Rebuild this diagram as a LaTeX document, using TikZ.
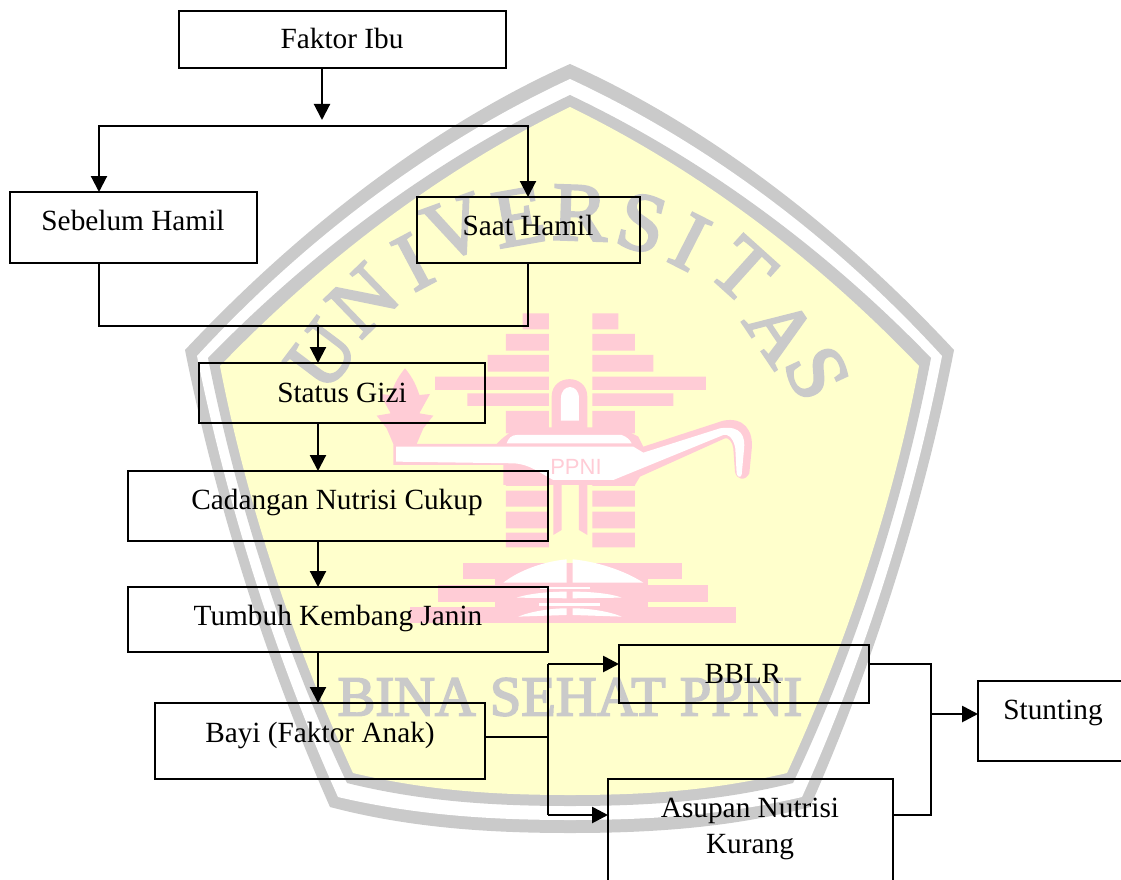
\documentclass[tikz,border=0pt]{standalone}
\usepackage{fontspec}
\setmainfont{Liberation Serif}
\newfontfamily\wmsans{Liberation Sans}
\newfontfamily\wmheavy[FakeBold=3]{Liberation Serif}
\usetikzlibrary{arrows.meta}
\definecolor{wmgrey}{HTML}{CACACA}
\definecolor{wmyellow}{HTML}{FFFFCC}
\definecolor{wmpink}{HTML}{FFCCD6}
\tikzset{
  boxnode/.style={draw=black,line width=2pt,inner sep=0pt,outer sep=0pt,anchor=north west,align=flush center,
    font=\fontsize{29.3}{36}\selectfont},
  link/.style={draw=black,line width=2.1pt},
  linkb/.style={draw=black,line width=2.7pt},
  arr/.style={link,-{Triangle[width=16pt,length=16pt]}},
  arrb/.style={linkb,-{Triangle[width=16pt,length=16pt]}},
  arrr/.style={link,{Triangle[width=16pt,length=16pt]}-{Triangle[width=16pt,length=16pt]}},
  wmletter/.style={text=wmgrey,inner sep=0pt,font=\wmheavy\fontsize{83}{83}\selectfont},
  wmbar/.style={fill=wmpink,draw=none},
}
% name, x1, y1, x2, y2, text centre x, first baseline y, text
\newcommand\boxat[8]{%
  \pgfmathsetmacro{\bw}{#4-#2}%
  \pgfmathsetmacro{\bh}{#7-#3}%
  \pgfmathsetmacro{\bd}{#5-#7}%
  \pgfmathsetmacro{\sx}{2*(#6-(#2+#4)/2)}%
  \edef\tmpopts{text width=\bw pt,text height=\bh pt,text depth=\bd pt}%
  \expandafter\node\expandafter[\tmpopts,boxnode] (#1) at (#2,#3) {\hspace*{\sx pt}#8};%
}
\begin{document}
\begin{tikzpicture}[x=1pt,y=-1pt]
\useasboundingbox (0,0) rectangle (1121,880);
\clip (0,0) rectangle (1121,880);
\fill[white] (0,0) rectangle (1121,880);
% shield: outer band, gap, inner band, field
\fill[wmgrey] (570,64) .. controls (440,122) and (305,222) .. (185,350)
  .. controls (215,500) and (265,660) .. (330,807)
  .. controls (410,828) and (490,833) .. (570,833)
  .. controls (650,833) and (730,828) .. (810,807)
  .. controls (875,660) and (925,500) .. (954,350)
  .. controls (835,222) and (700,122) .. cycle;
\fill[white] (570,79) .. controls (445,137) and (315,228) .. (197,356)
  .. controls (226,500) and (274,655) .. (338,797)
  .. controls (415,815) and (490,820) .. (570,820)
  .. controls (650,820) and (725,815) .. (802,797)
  .. controls (866,655) and (914,500) .. (942,356)
  .. controls (825,228) and (695,137) .. cycle;
\fill[wmgrey] (570,95) .. controls (450,152) and (325,238) .. (208,358)
  .. controls (236,500) and (284,650) .. (347,783)
  .. controls (420,801) and (490,806) .. (570,806)
  .. controls (650,806) and (720,801) .. (793,783)
  .. controls (856,650) and (904,500) .. (931,358)
  .. controls (815,238) and (690,152) .. cycle;
\fill[wmyellow] (570,107) .. controls (455,163) and (335,247) .. (220,366)
  .. controls (246,500) and (292,640) .. (353,773)
  .. controls (425,790) and (490,795) .. (570,795)
  .. controls (650,795) and (715,790) .. (787,773)
  .. controls (848,640) and (894,500) .. (919,366)
  .. controls (805,247) and (685,163) .. cycle;
% lettering round the shield
\node[wmletter,rotate=53]  (wu)  at (322,355) {U};
\node[wmletter,rotate=44]  (wn)  at (363,300) {N};
\node[wmletter,rotate=28]  (wi)  at (413,262) {I};
\node[wmletter,rotate=20]  (wv)  at (455,228) {V};
\node[wmletter,rotate=10]  (we)  at (519,217) {E};
\node[wmletter,rotate=-2]  (wr)  at (580,213) {R};
\node[wmletter,rotate=-15] (ws)  at (642,223) {S};
\node[wmletter,rotate=-27] (wi2) at (690,242) {I};
\node[wmletter,rotate=-42] (wt)  at (743,270) {T};
\node[wmletter,rotate=-56] (wa)  at (781,331) {A};
\node[wmletter,rotate=-65] (ws2) at (817,373) {S};
\node[text=wmgrey,inner sep=0pt,font=\wmheavy\fontsize{56.5}{57}\selectfont] (wbina) at (570,697) {BINA SEHAT PPNI};
% emblem, in crop coordinates (3 units to the pixel)
\begin{scope}[shift={(380,300)},x=0.3333pt,y=-0.3333pt]
  \fill[wmbar] (428,40) rectangle (507,88) (637,40) rectangle (715,88);
  \fill[wmbar] (378,102) rectangle (507,152) (637,102) rectangle (765,152);
  \fill[wmbar] (323,165) rectangle (507,215) (637,165) rectangle (820,215);
  \fill[wmbar] (165,230) rectangle (507,270) (637,230) rectangle (978,270);
  \fill[wmbar] (262,280) rectangle (507,318) (637,280) rectangle (880,318);
  \fill[wmbar] (378,333) rectangle (507,400) (637,333) rectangle (765,400);
  \fill[wmbar] (378,500) rectangle (507,558) (637,500) rectangle (765,558);
  \fill[wmbar] (378,572) rectangle (507,620) (637,572) rectangle (765,620);
  \fill[wmbar] (378,635) rectangle (507,685) (637,635) rectangle (765,685);
  \fill[wmbar] (378,698) rectangle (507,742) (637,698) rectangle (765,742);
  % flame
  \fill[wmbar] (75,205) .. controls (100,235) and (110,260) .. (118,285) -- (150,282) -- (118,340) -- (160,347)
    -- (130,385) -- (110,432) -- (40,432) -- (20,385) -- (-10,347) -- (32,340) -- (0,282) -- (32,285)
    .. controls (40,260) and (50,235) .. cycle;
  % legs
  \fill[wmbar] (520,540) -- (545,540) -- (545,690) -- (520,705) -- cycle;
  \fill[wmbar] (597,540) -- (622,540) -- (622,705) -- (597,690) -- cycle;
  % arch
  \fill[wmbar] (515,385) -- (515,290) .. controls (515,220) and (622,220) .. (622,290) -- (622,385) -- cycle;
  \fill[white] (543,362) -- (543,295) .. controls (543,250) and (597,250) .. (597,295) -- (597,362) -- cycle;
  % lamp
  \fill[wmbar] (40,432) -- (350,432) .. controls (365,415) and (385,400) .. (415,382) -- (720,382)
    -- (775,410) -- (790,440) -- (1030,362) .. controls (1090,350) and (1122,390) .. (1115,450)
    -- (1108,520) .. controls (1095,545) and (1070,540) .. (1065,515) -- (1060,445)
    .. controls (1058,425) and (1045,412) .. (1035,415) -- (780,530) -- (765,555) -- (370,555) -- (370,495) -- (40,495) -- cycle;
  \fill[white] (48,440) -- (760,440) -- (790,458) -- (1020,385) .. controls (1085,375) and (1097,410) .. (1092,450)
    -- (1085,525) .. controls (1080,535) and (1072,530) .. (1070,520) -- (1066,445)
    .. controls (1060,410) and (1040,400) .. (1030,405) -- (700,540) -- (520,540)
    .. controls (480,520) and (450,492) .. (400,490) -- (48,485) -- cycle;
  \fill[white] (380,430) .. controls (385,415) and (395,405) .. (410,405) -- (725,405) .. controls (740,410) and (750,420) .. (755,430) -- cycle;
  \node[text=wmpink,inner sep=0pt,font=\wmsans\fontsize{22}{22}\selectfont] (wppni) at (588,500) {PPNI};
  % base
  \fill[wmbar] (250,788) rectangle (907,838);
  \fill[wmbar] (175,855) rectangle (985,905);
  \fill[wmbar] (90,920) rectangle (1068,970);
  \fill[wmbar] (345,838) rectangle (805,970);
  \fill[white] (370,848) .. controls (420,810) and (490,785) .. (560,778) -- (560,848) -- cycle;
  \fill[white] (578,778) .. controls (650,785) and (730,810) .. (790,848) -- (578,848) -- cycle;
  \fill[white] (410,893) .. controls (450,880) and (510,875) .. (560,875) -- (560,895) -- cycle;
  \fill[white] (578,875) .. controls (630,875) and (690,880) .. (725,893) -- (578,895) -- cycle;
  \fill[white] (415,950) .. controls (450,935) and (510,925) .. (560,925) -- (560,945) -- cycle;
  \fill[white] (578,925) .. controls (630,925) and (690,935) .. (725,950) -- (578,945) -- cycle;
  \fill[white] (480,860) rectangle (630,867);
  \fill[white] (478,910) rectangle (660,917);
\end{scope}
% boxes
\boxat{faktor}{179}{11}{506}{68}{342}{49}{Faktor Ibu}
\boxat{sebelum}{10}{192}{257}{263}{133}{230}{Sebelum Hamil}
\boxat{saat}{417}{197}{640}{263}{528}{235}{Saat Hamil}
\boxat{status}{199}{363}{485}{423}{342}{402}{Status Gizi}
\boxat{cadangan}{128}{471}{548}{541}{337}{509}{Cadangan Nutrisi Cukup}
\boxat{tumbuh}{128}{587}{548}{652}{338}{625}{Tumbuh Kembang Janin}
\boxat{bayi}{155}{703}{485}{779}{320}{742}{Bayi (Faktor Anak)}
\boxat{bblr}{619}{645}{869}{703}{743}{683}{BBLR}
\boxat{asupan}{608}{779}{893}{905}{750}{817}{Asupan Nutrisi\\\hspace*{\sx pt}Kurang}
\boxat{stunting}{978}{681}{1126}{761}{1053}{719}{Stunting}
% junctions
\coordinate (toptip) at (322,120);
\coordinate (topl) at (99,126);
\coordinate (topr) at (528,126);
\coordinate (botl) at (99,326);
\coordinate (botm) at (318,326);
\coordinate (spine) at (318,600);
\coordinate (fork) at (548,737);
\coordinate (forkt) at (548,664);
\coordinate (forkb) at (548,815);
\coordinate (merge) at (931,714);
\coordinate (merget) at (931,664);
\coordinate (mergeb) at (931,815);
% connectors
\draw[arr] (faktor.south -| toptip) -- (toptip);
\draw[arrr] (sebelum.north -| topl) -- (topl) -- (topr) -- (saat.north -| topr);
\draw[link] (sebelum.south -| botl) -- (botl) -- (botm) -- (botm -| topr) -- (saat.south -| topr);
\draw[arr] (botm) -- (status.north -| botm);
\draw[arr] (status.south -| spine) -- (cadangan.north -| spine);
\draw[arr] (cadangan.south -| spine) -- (tumbuh.north -| spine);
\draw[arr] (tumbuh.south -| spine) -- (bayi.north -| spine);
\draw[link] (bayi.east |- fork) -- (fork);
\draw[link] (forkt) -- (forkb);
\draw[arrb] (forkt) -- (bblr.west |- forkt);
\draw[arrb] (forkb) -- (asupan.west |- forkb);
\draw[link] (bblr.east |- merget) -- (merget) -- (mergeb) -- (asupan.east |- mergeb);
\draw[arrb] (merge) -- (stunting.west |- merge);
\end{tikzpicture}
\end{document}
